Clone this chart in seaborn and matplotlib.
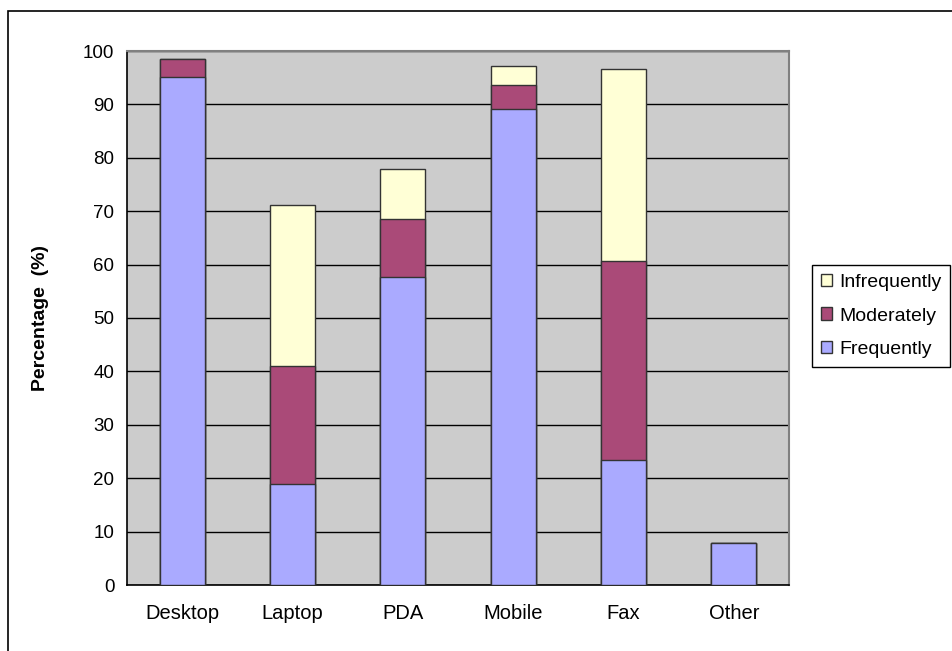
import matplotlib
matplotlib.use("Agg")
import matplotlib.pyplot as plt
from matplotlib.patches import Patch, Rectangle
import numpy as np
import pandas as pd
import seaborn as sns

# values (percent)
categories = ["Desktop", "Laptop", "PDA", "Mobile", "Fax", "Other"]
frequently = [95.1, 19.0, 57.7, 89.1, 23.5, 7.9]
moderately = [3.4, 22.0, 10.8, 4.5, 37.1, 0.0]
infrequently = [0.0, 30.2, 9.4, 3.5, 36.0, 0.0]
series_names = ["Infrequently", "Moderately", "Frequently"]
y_ticks = list(range(0, 101, 10))

colors = {"Frequently": "#AAAAFF", "Moderately": "#AA4A78", "Infrequently": "#FFFFD6"}

sns.set_style("white")
plt.rcParams["font.family"] = ["Liberation Sans", "DejaVu Sans"]
plt.rcParams["text.color"] = "black"
plt.rcParams["axes.labelcolor"] = "black"
plt.rcParams["xtick.color"] = "black"
plt.rcParams["ytick.color"] = "black"

df = pd.DataFrame({
    "device": categories,
    "Frequently": frequently,
    "Moderately": moderately,
    "Infrequently": infrequently,
})
# cumulative heights, drawn back to front so the stacks show through
df["lvl1"] = df["Frequently"]
df["lvl2"] = df["lvl1"] + df["Moderately"]
df["lvl3"] = df["lvl2"] + df["Infrequently"]

fig = plt.figure(figsize=(9.53, 6.51), dpi=100)
ax = fig.add_axes([127 / 953, 1 - 585 / 651, (789 - 127) / 953, (585 - 51) / 651])
ax.set_facecolor("#CCCCCC")
ax.set_axisbelow(True)

for col, name in [("lvl3", "Infrequently"), ("lvl2", "Moderately"), ("lvl1", "Frequently")]:
    sns.barplot(data=df, x="device", y=col, color=colors[name], saturation=1,
                width=0.41, edgecolor="#333333", linewidth=1.0, ax=ax, zorder=3)

ax.set_ylim(0, 100)
ax.set_xlim(-0.5, len(categories) - 0.5)
ax.set_yticks(y_ticks)
ax.yaxis.grid(True, color="black", linewidth=1.0, zorder=0)
ax.xaxis.grid(False)

# x ticks sit between the categories, labels in the middle
ax.set_xticks(np.arange(len(categories) + 1) - 0.5, minor=True)
ax.tick_params(axis="x", which="major", length=0, labelsize=14.5, pad=14)
ax.tick_params(axis="x", which="minor", length=6, width=1, color="black", direction="out")
ax.tick_params(axis="y", length=5, width=1, color="black", direction="out", labelsize=13.5, pad=4)
ax.set_xlabel("")
ax.set_ylabel("Percentage  (%)", fontsize=14, fontweight="bold")
ax.yaxis.set_label_coords(-0.118, 0.5)

for side in ["left", "bottom"]:
    ax.spines[side].set_color("black")
    ax.spines[side].set_linewidth(1.2)
for side in ["top", "right"]:
    ax.spines[side].set_visible(True)
    ax.spines[side].set_color("#808080")
    ax.spines[side].set_linewidth(1.5)

handles = [Patch(facecolor=colors[n], edgecolor="#333333", linewidth=1) for n in series_names]
leg = fig.legend(handles, series_names, loc="center left",
                 bbox_to_anchor=(812 / 953, 1 - 316 / 651), fontsize=14,
                 frameon=True, fancybox=False, edgecolor="black", framealpha=1,
                 handlelength=0.6, handleheight=0.6, handletextpad=0.35,
                 labelspacing=0.85, borderpad=0.45, borderaxespad=0)
leg.get_frame().set_linewidth(1.0)

# outer chart border (only left and top visible in the reference)
fig.add_artist(Rectangle((8 / 953, -0.5), 2, (1 - 11 / 651) + 0.5,
                         transform=fig.transFigure, fill=False,
                         edgecolor="black", linewidth=1.2))

fig.savefig("out.png", dpi=100)
